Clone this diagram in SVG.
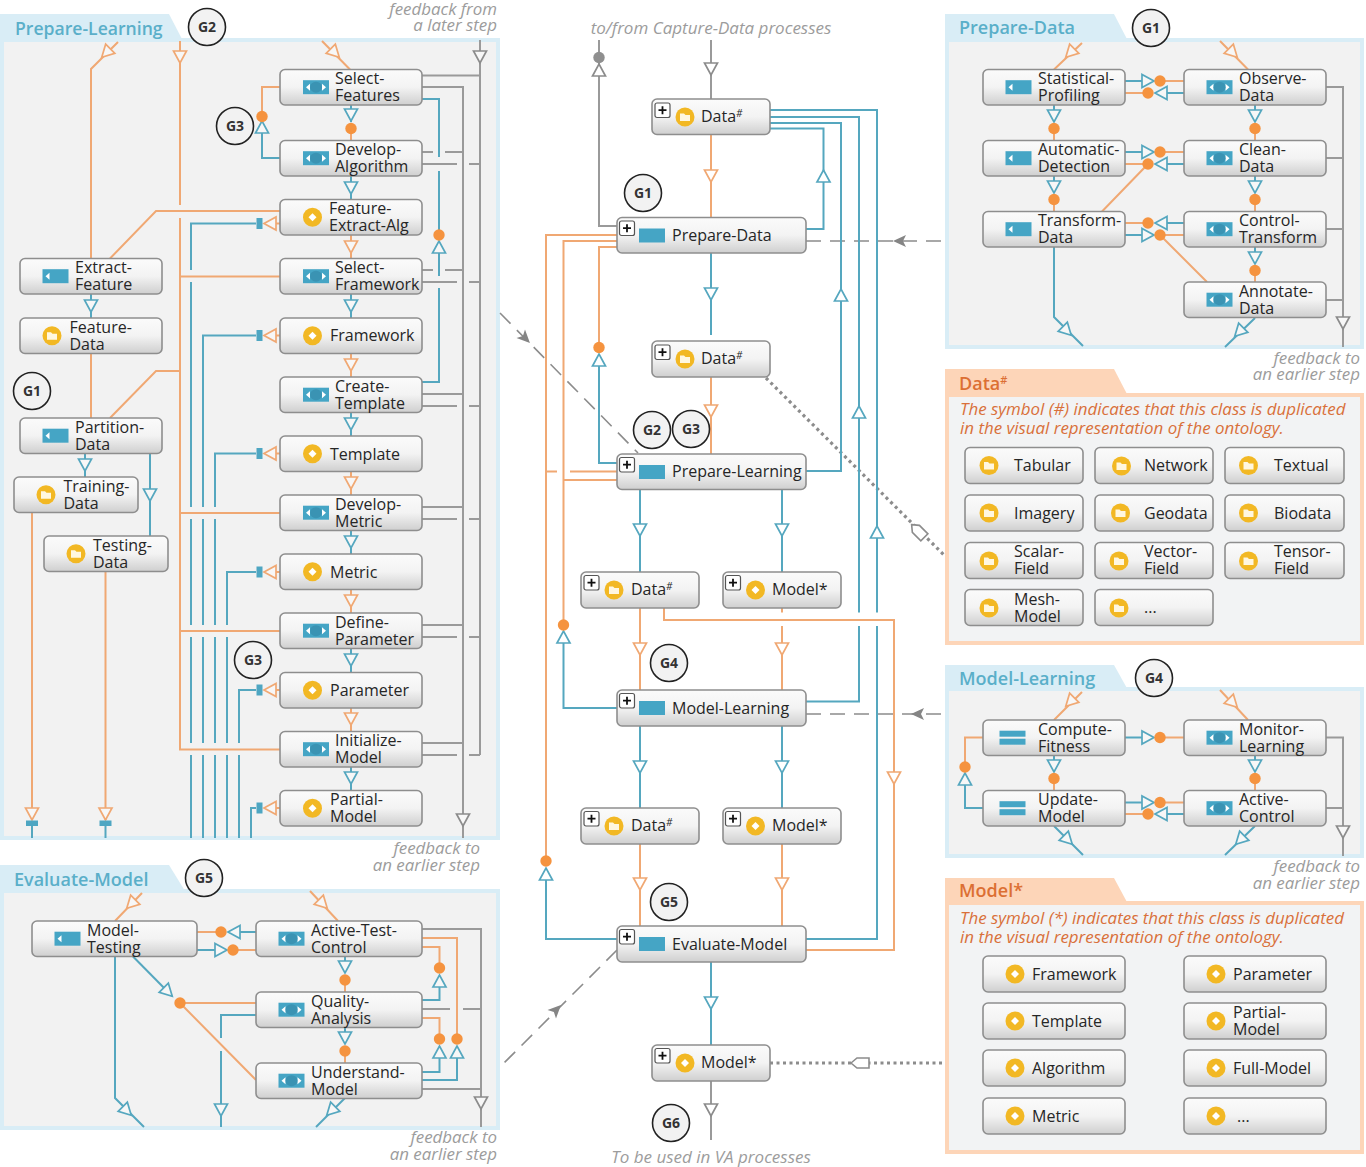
<svg xmlns="http://www.w3.org/2000/svg" width="1366" height="1167" viewBox="0 0 1366 1167">
<style>
text{font-family:"Open Sans","Liberation Sans",sans-serif}
.n{font-size:16px;fill:#262626}
.n:has(tspan[dy="17"]){transform:translate(0,-.8px)}
.f{font-size:16.9px;fill:#9c9c9c;font-style:italic;text-anchor:end}
.c{font-size:17px;fill:#9c9c9c;font-style:italic;text-anchor:middle}
.tb{font-size:18px;font-weight:600;fill:#5aafc9}
.to{font-size:18px;font-weight:600;fill:#dc6f33}
.de{font-size:16.9px;font-style:italic;fill:#d9703a}
.g{font-size:14px;font-weight:700;fill:#333;text-anchor:middle}
.gc{fill:#f2f2f2;stroke:#222;stroke-width:1.6}
.box{fill:url(#bg);stroke:#8e8e8e;stroke-width:1.6}
.pb{fill:#f2f2f2;stroke:#d9edf6;stroke-width:4}
.tbb{fill:#d9edf6}
.po{fill:#f2f3f4;stroke:#fdd5b8;stroke-width:4}
.tbo{fill:#fdd5b8}
.lo,.lb,.lg,.ld,.lt{fill:none;stroke-linejoin:miter}
.lo{stroke:#f0a873;stroke-width:2}
.lb{stroke:#55a7bf;stroke-width:2}
.lg{stroke:#9a9a9a;stroke-width:2}
.ld{stroke:#8c8c8c;stroke-width:1.6;stroke-dasharray:15 9}
.lt{stroke:#8c8c8c;stroke-width:3.2;stroke-dasharray:3 3.5}
.ao,.ab,.ag{stroke-width:1.7;fill:#f7f7f7}
.ao{stroke:#f0a873}
.ab{stroke:#55a7bf}
.ag{stroke:#8c8c8c}
.w{fill:#fff}
.d{fill:#f5933f}
.dg{fill:#8f8f8f}
.bk{fill:#4ea6c2}
.chev{fill:#858585}
.pent{fill:#fff;stroke:#8c8c8c;stroke-width:1.6}
.pl{fill:#fff;stroke:#555;stroke-width:1.2}
.pls{stroke:#111;stroke-width:1.8;fill:none}
</style>
<defs>
<linearGradient id="bg" x1="0" y1="0" x2="0" y2="1"><stop offset="0" stop-color="#fbfbfb"/><stop offset="0.5" stop-color="#f3f3f3"/><stop offset="1" stop-color="#cfcfcf"/></linearGradient>
<path id="a" d="M-6.5,-6 H6.5 L0,6 Z"/>
<path id="chv" d="M-7,0 L6,-6 L3,0 L6,6 Z"/>
<path id="pnt" d="M-9,0 L-3,-5 H9 V5 H-3 Z"/>
<g id="ip"><rect x="-13" y="-7" width="26" height="14" fill="#45a5c5"/></g>
<g id="il"><rect x="-13" y="-7" width="26" height="14" fill="#45a5c5"/><path d="M-10,0 L-6,-3.5 V3.5 Z" fill="#fff"/></g>
<g id="ib"><rect x="-13" y="-7" width="26" height="14" fill="#45a5c5"/><path d="M-10,0 L-6,-3.5 V3.5 Z M10,0 L6,-3.5 V3.5 Z" fill="#fff"/><ellipse cx="0" cy="0" rx="6" ry="5.5" fill="#3a93b3"/></g>
<g id="ie"><rect x="-13" y="-7" width="26" height="6" fill="#45a5c5"/><rect x="-13" y="1" width="26" height="6" fill="#45a5c5"/></g>
<g id="iy"><circle r="9.5" fill="#f2b824"/><path d="M-5,-3.5 H-1 L0.5,-2 H5 V4 H-5 Z" fill="#fff7e0"/></g>
<g id="im"><circle r="9.5" fill="#f2b824"/><path d="M0,-4 L4,0 L0,4 L-4,0 Z" fill="#fff"/></g>
<g id="plus"><rect x="0" y="0" width="15" height="14.5" rx="2" class="pl"/><path d="M3.5,7.2 H11.5 M7.5,3.2 V11.2" class="pls"/></g>
</defs>
<rect width="1366" height="1167" fill="#fff"/>

<g id="panels">
<g id="panel-prepare-learning"><path class="tbb" d="M0,14 H169 L183,41 H0 Z"/><rect class="pb" x="2" y="40" width="496" height="798"/><text class="tb" x="15" y="35" font-size="17.6" style="font-size:17.6px">Prepare-Learning</text></g>
<g id="panel-evaluate-model"><path class="tbb" d="M0,865 H169 L185,891 H0 Z"/><rect class="pb" x="2" y="891" width="496" height="237"/><text class="tb" x="14" y="886">Evaluate-Model</text></g>
<g id="panel-prepare-data"><path class="tbb" d="M945,14 H1114 L1128,41 H945 Z"/><rect class="pb" x="947" y="40" width="415" height="307"/><text class="tb" x="959" y="34">Prepare-Data</text></g>
<g id="panel-data-class"><path class="tbo" d="M945,369 H1114 L1128,396 H945 Z"/><rect class="po" x="947" y="395" width="415" height="248"/><text class="to" x="959" y="390">Data<tspan dy="-6" font-size="11">#</tspan></text>
<text class="de" x="960" y="415">The symbol (#) indicates that this class is duplicated</text><text class="de" x="960" y="434">in the visual representation of the ontology.</text></g>
<g id="panel-model-learning"><path class="tbb" d="M945,665 H1114 L1128,690 H945 Z"/><rect class="pb" x="947" y="689" width="415" height="167"/><text class="tb" x="959" y="685">Model-Learning</text></g>
<g id="panel-model-class"><path class="tbo" d="M945,878 H1114 L1128,904 H945 Z"/><rect class="po" x="947" y="903" width="415" height="249"/><text class="to" x="959" y="897">Model*</text>
<text class="de" x="960" y="923.5">The symbol (*) indicates that this class is duplicated</text><text class="de" x="960" y="943">in the visual representation of the ontology.</text></g>
</g>

<g id="notes">
<text class="f" x="497" y="15">feedback from</text><text class="f" x="497" y="31">a later step</text>
<text class="f" x="480" y="854">feedback to</text><text class="f" x="480" y="871">an earlier step</text>
<text class="f" x="497" y="1143">feedback to</text><text class="f" x="497" y="1160">an earlier step</text>
<text class="f" x="1360" y="364">feedback to</text><text class="f" x="1360" y="380">an earlier step</text>
<text class="f" x="1360" y="872">feedback to</text><text class="f" x="1360" y="889">an earlier step</text>
<text class="c" x="711" y="34">to/from Capture-Data processes</text>
<text class="c" x="711" y="1163">To be used in VA processes</text>
</g>

<g id="connectors">
<!-- Prepare-Learning: orange -->
<path class="lo" d="M118,42 L91,69 V258.5"/>
<path class="lo" d="M322,41 L350,69.5"/>
<path class="lo" d="M91,353.5 V418"/>
<path class="lo" d="M180,41 V205 M180,218 V749.5 H280 M180,276.5 H280 M180,513 H280 M180,631 H280 M180,371 H156 L110,418"/>
<path class="lo" d="M280,211 H156 L110,258.5"/>
<path class="lo" d="M280,87 H262 V116"/>
<path class="lo" d="M32,513 V820 M105.5,572 V820"/>
<path class="lo" d="M276,223.5 H280 M276,335.5 H280 M276,453.5 H280 M276,572 H280 M276,690 H280 M276,808 H280"/>
<path class="lo" d="M351,235 V258.5 M351,353.5 V377 M351,471.5 V495 M351,589.5 V613 M351,708 V731.5 M351,128 V140.5"/>
<!-- Prepare-Learning: blue -->
<path class="lb" d="M91,294 V318 M85,453.5 V477 M150,453.5 V536"/>
<path class="lb" d="M351,105 V122 M351,176 V199.5 M351,294 V318 M351,412.5 V436 M351,530.5 V554 M351,648.5 V672.5 M351,767 V790.5"/>
<path class="lb" d="M280,158 H262 V133"/>
<path class="lb" d="M422,99 H439 V157 M439,171 V235 M422,382 H439 V288 M439,276 V253"/>
<path class="lb" d="M256,223.5 H191 V270 M191,282 V507 M191,519 V625 M191,637 V743 M191,755 V838"/>
<path class="lb" d="M256,335.5 H203 V507 M203,519 V625 M203,637 V743 M203,755 V838"/>
<path class="lb" d="M256,453.5 H215 V507 M215,519 V625 M215,637 V743 M215,755 V838"/>
<path class="lb" d="M256,572 H227 V625 M227,637 V743 M227,755 V838"/>
<path class="lb" d="M256,690 H239 V743 M239,755 V838"/>
<path class="lb" d="M256,808 H251 V838"/>
<path class="lb" d="M32,826 V838 M105.5,826 V838"/>
<!-- Prepare-Learning: grey -->
<path class="lg" d="M480,40 V755 M422,75.5 H480 M422,164 H457 M469,164 H480 M422,282 H457 M469,282 H480 M422,406 H457 M469,406 H480 M422,519 H457 M469,519 H480 M422,637 H457 M469,637 H480 M422,755 H457 M469,755 H480"/>
<path class="lg" d="M422,87 H463 V838 M422,152 H433 M445,152 H463 M422,270 H433 M445,270 H463 M422,394 H463 M422,507 H463 M422,625 H463 M422,743 H463"/>
<!-- arrows -->
<use href="#a" class="ao" transform="translate(106,53) rotate(45)"/>
<use href="#a" class="ao" transform="translate(335,53) rotate(-45)"/>
<use href="#a" class="ao" transform="translate(180,57)"/>
<use href="#a" class="ag" transform="translate(480,57)"/>
<use href="#a" class="ag" transform="translate(463,820)"/>
<use href="#a" class="ao" transform="translate(32,814)"/>
<use href="#a" class="ao" transform="translate(105.5,814)"/>
<use href="#a" class="ab" transform="translate(91,306)"/>
<use href="#a" class="ab" transform="translate(85,465)"/>
<use href="#a" class="ab" transform="translate(150,495)"/>
<use href="#a" class="ab" transform="translate(262,127) rotate(180)"/>
<use href="#a" class="ab" transform="translate(439,247) rotate(180)"/>
<use href="#a" class="ab" transform="translate(351,115)"/>
<use href="#a" class="ab" transform="translate(351,188)"/>
<use href="#a" class="ao" transform="translate(351,247)"/>
<use href="#a" class="ab" transform="translate(351,306)"/>
<use href="#a" class="ao" transform="translate(351,365)"/>
<use href="#a" class="ab" transform="translate(351,424)"/>
<use href="#a" class="ao" transform="translate(351,483)"/>
<use href="#a" class="ab" transform="translate(351,542)"/>
<use href="#a" class="ao" transform="translate(351,601)"/>
<use href="#a" class="ab" transform="translate(351,660)"/>
<use href="#a" class="ao" transform="translate(351,719)"/>
<use href="#a" class="ab" transform="translate(351,778)"/>
<use href="#a" class="ao" transform="translate(270,223.5) rotate(90)"/>
<use href="#a" class="ao" transform="translate(270,335.5) rotate(90)"/>
<use href="#a" class="ao" transform="translate(270,453.5) rotate(90)"/>
<use href="#a" class="ao" transform="translate(270,572) rotate(90)"/>
<use href="#a" class="ao" transform="translate(270,690) rotate(90)"/>
<use href="#a" class="ao" transform="translate(270,808) rotate(90)"/>
<circle class="d" cx="351" cy="128.5" r="5.7"/>
<circle class="d" cx="262" cy="116.5" r="5.7"/>
<circle class="d" cx="439" cy="235" r="5.7"/>
<rect class="bk" x="256.5" y="218" width="6" height="11"/>
<rect class="bk" x="256.5" y="330" width="6" height="11"/>
<rect class="bk" x="256.5" y="448" width="6" height="11"/>
<rect class="bk" x="256.5" y="566.5" width="6" height="11"/>
<rect class="bk" x="256.5" y="684.5" width="6" height="11"/>
<rect class="bk" x="256.5" y="802.5" width="6" height="11"/>
<rect class="bk" x="26" y="820.5" width="12" height="5.5"/>
<rect class="bk" x="99.5" y="820.5" width="12" height="5.5"/>

<!-- Evaluate-Model panel -->
<path class="lo" d="M142,893 L115,921 M310,891 L338,921"/>
<path class="lo" d="M197,932 H221"/>
<path class="lo" d="M233,950 H256"/>
<path class="lb" d="M240,932 H256 M197,950 H216"/>
<path class="lb" d="M345,956.5 V973 M345,1027 V1044"/>
<path class="lo" d="M345,980 V992 M345,1051 V1063"/>
<path class="lb" d="M115,956.5 V1098 L144,1127"/>
<path class="lb" d="M133,956.5 L172,996"/>
<path class="lo" d="M180,1003 H256 M180,1003 L256,1080"/>
<path class="lb" d="M256,1015 H221 V1038 M221,1051 V1127"/>
<path class="lb" d="M345,1098 L316,1127"/>
<path class="lg" d="M422,929 H481 V1127 M422,1009 H450 M463,1009 H481 M422,1089 H481"/>
<path class="lo" d="M422,938 H457 V1039 M422,947 H439.5 V968 M422,1018 H439.5 V1039"/>
<path class="lb" d="M422,1000 H439.5 V987 M422,1072 H439.5 V1058 M422,1080 H457 V1058"/>
<use href="#a" class="ao" transform="translate(131,904) rotate(45)"/>
<use href="#a" class="ao" transform="translate(323,904) rotate(-45)"/>
<use href="#a" class="ab" transform="translate(234,932) rotate(90)"/>
<use href="#a" class="ab" transform="translate(221,950) rotate(-90)"/>
<use href="#a" class="ab" transform="translate(345,967)"/>
<use href="#a" class="ab" transform="translate(345,1038)"/>
<use href="#a" class="ab" transform="translate(127,1111) rotate(-45)"/>
<use href="#a" class="ab" transform="translate(168,992) rotate(-45)"/>
<use href="#a" class="ab" transform="translate(221,1110)"/>
<use href="#a" class="ab" transform="translate(331,1111) rotate(45)"/>
<use href="#a" class="ag" transform="translate(481,1103)"/>
<use href="#a" class="ab" transform="translate(439.5,981) rotate(180)"/>
<use href="#a" class="ab" transform="translate(439.5,1052) rotate(180)"/>
<use href="#a" class="ab" transform="translate(457,1052) rotate(180)"/>
<circle class="d" cx="221" cy="932" r="5.7"/>
<circle class="d" cx="233" cy="950" r="5.7"/>
<circle class="d" cx="345" cy="980" r="5.7"/>
<circle class="d" cx="345" cy="1051" r="5.7"/>
<circle class="d" cx="180" cy="1003" r="5.7"/>
<circle class="d" cx="439.5" cy="968" r="5.7"/>
<circle class="d" cx="439.5" cy="1039" r="5.7"/>
<circle class="d" cx="457" cy="1039" r="5.7"/>

<!-- Centre column -->
<path class="ld" d="M500,313 L638,453"/>
<path class="ld" d="M617,950 L500,1067"/>
<path class="ld" d="M806,241 H945"/>
<path class="ld" d="M806,714 H945"/>
<path class="lt" d="M766,378 L945,556"/>
<path class="lt" d="M770,1063 H945"/>
<path class="lg" d="M599,40 V226 H617"/>
<path class="lg" d="M711,40 V99"/>
<path class="lg" d="M711,1081 V1140"/>
<path class="lo" d="M711,134.5 V217.5 M711,377 V454"/>
<path class="lb" d="M711,253 V335"/>
<path class="lb" d="M770,128.5 H823.5 V229 H806"/>
<path class="lb" d="M770,123 H841 V471 H806"/>
<path class="lb" d="M770,117 H859 V612.5 M859,626 V701.5 H806"/>
<path class="lb" d="M770,110 H877 V612.5 M877,626 V939 H806"/>
<path class="lo" d="M617,235 H546 V861"/>
<path class="lo" d="M617,241 H563.5 V625"/>
<path class="lo" d="M617,247 H599 V347"/>
<path class="lo" d="M546,471.5 H557 M570,471.5 H617 M563.5,480 H617"/>
<path class="lb" d="M617,463 H599 V366"/>
<path class="lb" d="M617,708 H563.5 V643"/>
<path class="lb" d="M617,939 H546 V880"/>
<path class="lb" d="M640,489.5 V572 M782,489.5 V572 M640,726 V808 M782,726 V808 M711,962 V1045"/>
<path class="lo" d="M640,608 V690 M782,608 V612.5 M782,626 V690 M640,844 V926 M782,844 V926"/>
<path class="lo" d="M664,608 V620 H894 V950 H806"/>
<use href="#a" class="ag w" transform="translate(711,69)"/>
<use href="#a" class="ag w" transform="translate(599,70) rotate(180)"/>
<use href="#a" class="ag w" transform="translate(711,1110)"/>
<use href="#a" class="ao w" transform="translate(711,176)"/>
<use href="#a" class="ao w" transform="translate(711,411)"/>
<use href="#a" class="ab w" transform="translate(711,294)"/>
<use href="#a" class="ab w" transform="translate(823.5,176) rotate(180)"/>
<use href="#a" class="ab w" transform="translate(841,295) rotate(180)"/>
<use href="#a" class="ab w" transform="translate(859,412) rotate(180)"/>
<use href="#a" class="ab w" transform="translate(877,532) rotate(180)"/>
<use href="#a" class="ab w" transform="translate(599,360) rotate(180)"/>
<use href="#a" class="ab w" transform="translate(563.5,637) rotate(180)"/>
<use href="#a" class="ab w" transform="translate(546,874) rotate(180)"/>
<use href="#a" class="ab w" transform="translate(640,530)"/>
<use href="#a" class="ab w" transform="translate(782,530)"/>
<use href="#a" class="ao w" transform="translate(640,649)"/>
<use href="#a" class="ao w" transform="translate(782,649)"/>
<use href="#a" class="ab w" transform="translate(640,767)"/>
<use href="#a" class="ab w" transform="translate(782,767)"/>
<use href="#a" class="ao w" transform="translate(640,884)"/>
<use href="#a" class="ao w" transform="translate(782,884)"/>
<use href="#a" class="ab w" transform="translate(711,1003)"/>
<use href="#a" class="ao w" transform="translate(894,778)"/>
<circle class="dg" cx="599" cy="57.5" r="5.7"/>
<circle class="d" cx="599" cy="347.5" r="5.7"/>
<circle class="d" cx="563.5" cy="625" r="5.7"/>
<circle class="d" cx="546" cy="861" r="5.7"/>
<use href="#chv" class="chev" transform="translate(900,241)"/>
<use href="#chv" class="chev" transform="translate(918,714)"/>
<use href="#chv" class="chev" transform="translate(525,338) rotate(225)"/>
<use href="#chv" class="chev" transform="translate(556,1010) rotate(135)"/>
<use href="#pnt" class="pent" transform="translate(918,531) rotate(45)"/>
<use href="#pnt" class="pent" transform="translate(860,1063)"/>

<!-- Prepare-Data panel -->
<path class="lo" d="M1082,43 L1054,69.5 M1220,41 L1248,69.5"/>
<path class="lb" d="M1125,81 H1143 M1167,93 H1184 M1125,152 H1143 M1167,164 H1184 M1125,235 H1143 M1167,223 H1184"/>
<path class="lo" d="M1160,81 H1184 M1125,93 H1148 M1160,152 H1184 M1125,164 H1148 M1125,223 H1148 M1160,235 H1184"/>
<path class="lo" d="M1148,164 L1102,211.5 M1160,235 L1207,282"/>
<path class="lb" d="M1054,105 V122 M1054,176 V193 M1255,105 V122 M1255,176 V193 M1255,246.5 V264"/>
<path class="lo" d="M1054,128 V140.5 M1054,199 V211.5 M1255,128 V140.5 M1255,199 V211.5 M1255,270 V282"/>
<path class="lg" d="M1326,87 H1343 V347 M1326,158 H1343 M1326,229 H1343 M1326,300 H1343"/>
<path class="lb" d="M1054,246.5 V317 L1083,346 M1255,318 L1225,347"/>
<use href="#a" class="ao" transform="translate(1070,53) rotate(45)"/>
<use href="#a" class="ao" transform="translate(1233,53) rotate(-45)"/>
<use href="#a" class="ab" transform="translate(1148,81) rotate(-90)"/>
<use href="#a" class="ab" transform="translate(1161,93) rotate(90)"/>
<use href="#a" class="ab" transform="translate(1148,152) rotate(-90)"/>
<use href="#a" class="ab" transform="translate(1161,164) rotate(90)"/>
<use href="#a" class="ab" transform="translate(1161,223) rotate(90)"/>
<use href="#a" class="ab" transform="translate(1148,235) rotate(-90)"/>
<use href="#a" class="ab" transform="translate(1054,116)"/>
<use href="#a" class="ab" transform="translate(1054,187)"/>
<use href="#a" class="ab" transform="translate(1255,116)"/>
<use href="#a" class="ab" transform="translate(1255,187)"/>
<use href="#a" class="ab" transform="translate(1255,258)"/>
<use href="#a" class="ag" transform="translate(1343,323)"/>
<use href="#a" class="ab" transform="translate(1067,331) rotate(-45)"/>
<use href="#a" class="ab" transform="translate(1239,332) rotate(45)"/>
<circle class="d" cx="1160" cy="81" r="5.7"/><circle class="d" cx="1148" cy="93" r="5.7"/>
<circle class="d" cx="1160" cy="152" r="5.7"/><circle class="d" cx="1148" cy="164" r="5.7"/>
<circle class="d" cx="1148" cy="223" r="5.7"/><circle class="d" cx="1160" cy="235" r="5.7"/>
<circle class="d" cx="1054" cy="128.5" r="5.7"/><circle class="d" cx="1054" cy="199.5" r="5.7"/>
<circle class="d" cx="1255" cy="128.5" r="5.7"/><circle class="d" cx="1255" cy="199.5" r="5.7"/><circle class="d" cx="1255" cy="270.5" r="5.7"/>

<!-- Model-Learning panel -->
<path class="lo" d="M1082,692 L1054,720 M1220,690 L1248,720"/>
<path class="lb" d="M1125,737.5 H1143 M1125,802.5 H1143 M1167,814 H1184"/>
<path class="lo" d="M1160,737.5 H1184 M1160,802.5 H1184 M1125,814 H1148"/>
<path class="lo" d="M983,737.5 H965 V767"/>
<path class="lb" d="M983,808 H965 V785"/>
<path class="lb" d="M1054,755 V772 M1255,755 V772"/>
<path class="lo" d="M1054,778 V790.5 M1255,778 V790.5"/>
<path class="lg" d="M1326,737.5 H1343 V856 M1326,808 H1343"/>
<path class="lb" d="M1054,826 L1083,855 M1255,826 L1225,855"/>
<use href="#a" class="ao" transform="translate(1070,702) rotate(45)"/>
<use href="#a" class="ao" transform="translate(1233,703) rotate(-45)"/>
<use href="#a" class="ab" transform="translate(1148,737.5) rotate(-90)"/>
<use href="#a" class="ab" transform="translate(1148,802.5) rotate(-90)"/>
<use href="#a" class="ab" transform="translate(1161,814) rotate(90)"/>
<use href="#a" class="ab" transform="translate(965,779) rotate(180)"/>
<use href="#a" class="ab" transform="translate(1054,766)"/>
<use href="#a" class="ab" transform="translate(1255,766)"/>
<use href="#a" class="ag" transform="translate(1343,832)"/>
<use href="#a" class="ab" transform="translate(1068,840) rotate(-45)"/>
<use href="#a" class="ab" transform="translate(1240,840) rotate(45)"/>
<circle class="d" cx="1160" cy="737.5" r="5.7"/><circle class="d" cx="1160" cy="802.5" r="5.7"/><circle class="d" cx="1148" cy="814" r="5.7"/>
<circle class="d" cx="965" cy="767" r="5.7"/><circle class="d" cx="1054" cy="778.5" r="5.7"/><circle class="d" cx="1255" cy="778.5" r="5.7"/>
</g>

<g id="nodes">
<!-- Prepare-Learning -->
<g id="pl-select-features"><rect class="box" x="280" y="69.5" width="142" height="35.5" rx="5"/><use href="#ib" x="316" y="87.2"/><text class="n" x="335" y="85">Select-<tspan x="335" dy="17">Features</tspan></text></g>
<g id="pl-develop-algorithm"><rect class="box" x="280" y="140.5" width="142" height="35.5" rx="5"/><use href="#ib" x="316" y="158.2"/><text class="n" x="335" y="156">Develop-<tspan x="335" dy="17">Algorithm</tspan></text></g>
<g id="pl-feature-extract-alg"><rect class="box" x="280" y="199.5" width="142" height="35.5" rx="5"/><use href="#im" x="312.5" y="217.2"/><text class="n" x="329" y="215">Feature-<tspan x="329" dy="17">Extract-Alg</tspan></text></g>
<g id="pl-select-framework"><rect class="box" x="280" y="258.5" width="142" height="35.5" rx="5"/><use href="#ib" x="316" y="276.2"/><text class="n" x="335" y="274">Select-<tspan x="335" dy="17">Framework</tspan></text></g>
<g id="pl-framework"><rect class="box" x="280" y="318" width="142" height="35.5" rx="5"/><use href="#im" x="312.5" y="335.7"/><text class="n" x="330" y="341">Framework</text></g>
<g id="pl-create-template"><rect class="box" x="280" y="377" width="142" height="35.5" rx="5"/><use href="#ib" x="316" y="394.7"/><text class="n" x="335" y="392.5">Create-<tspan x="335" dy="17">Template</tspan></text></g>
<g id="pl-template"><rect class="box" x="280" y="436" width="142" height="35.5" rx="5"/><use href="#im" x="312.5" y="453.7"/><text class="n" x="330" y="459.8">Template</text></g>
<g id="pl-develop-metric"><rect class="box" x="280" y="495" width="142" height="35.5" rx="5"/><use href="#ib" x="316" y="512.7"/><text class="n" x="335" y="510.5">Develop-<tspan x="335" dy="17">Metric</tspan></text></g>
<g id="pl-metric"><rect class="box" x="280" y="554" width="142" height="35.5" rx="5"/><use href="#im" x="312.5" y="571.7"/><text class="n" x="330" y="577.8">Metric</text></g>
<g id="pl-define-parameter"><rect class="box" x="280" y="613" width="142" height="35.5" rx="5"/><use href="#ib" x="316" y="630.7"/><text class="n" x="335" y="628.5">Define-<tspan x="335" dy="17">Parameter</tspan></text></g>
<g id="pl-parameter"><rect class="box" x="280" y="672.5" width="142" height="35.5" rx="5"/><use href="#im" x="312.5" y="690.2"/><text class="n" x="330" y="696">Parameter</text></g>
<g id="pl-initialize-model"><rect class="box" x="280" y="731.5" width="142" height="35.5" rx="5"/><use href="#ib" x="316" y="749.2"/><text class="n" x="335" y="747">Initialize-<tspan x="335" dy="17">Model</tspan></text></g>
<g id="pl-partial-model"><rect class="box" x="280" y="790.5" width="142" height="35.5" rx="5"/><use href="#im" x="312.5" y="808.2"/><text class="n" x="330" y="806">Partial-<tspan x="330" dy="17">Model</tspan></text></g>
<g id="pl-extract-feature"><rect class="box" x="20" y="258.5" width="142" height="35.5" rx="5"/><use href="#il" x="55.5" y="276.2"/><text class="n" x="75" y="274">Extract-<tspan x="75" dy="17">Feature</tspan></text></g>
<g id="pl-feature-data"><rect class="box" x="20" y="318" width="142" height="35.5" rx="5"/><use href="#iy" x="52" y="335.7"/><text class="n" x="69.5" y="333.5">Feature-<tspan x="69.5" dy="17">Data</tspan></text></g>
<g id="pl-partition-data"><rect class="box" x="20" y="418" width="142" height="35.5" rx="5"/><use href="#il" x="55.5" y="435.7"/><text class="n" x="75" y="433.5">Partition-<tspan x="75" dy="17">Data</tspan></text></g>
<g id="pl-training-data"><rect class="box" x="14" y="477" width="124" height="35.5" rx="5"/><use href="#iy" x="46" y="494.7"/><text class="n" x="63.5" y="492.5">Training-<tspan x="63.5" dy="17">Data</tspan></text></g>
<g id="pl-testing-data"><rect class="box" x="44" y="536" width="124" height="35.5" rx="5"/><use href="#iy" x="76" y="553.7"/><text class="n" x="93" y="551.5">Testing-<tspan x="93" dy="17">Data</tspan></text></g>
<!-- Evaluate-Model -->
<g id="em-model-testing"><rect class="box" x="32" y="921" width="165" height="35.5" rx="5"/><use href="#il" x="67.5" y="938.7"/><text class="n" x="87" y="936.5">Model-<tspan x="87" dy="17">Testing</tspan></text></g>
<g id="em-active-test-control"><rect class="box" x="256" y="921" width="166" height="35.5" rx="5"/><use href="#ib" x="291.5" y="938.7"/><text class="n" x="311" y="936.5">Active-Test-<tspan x="311" dy="17">Control</tspan></text></g>
<g id="em-quality-analysis"><rect class="box" x="256" y="992" width="166" height="35.5" rx="5"/><use href="#ib" x="291.5" y="1009.7"/><text class="n" x="311" y="1007.5">Quality-<tspan x="311" dy="17">Analysis</tspan></text></g>
<g id="em-understand-model"><rect class="box" x="256" y="1063" width="166" height="35.5" rx="5"/><use href="#ib" x="291.5" y="1080.7"/><text class="n" x="311" y="1078.5">Understand-<tspan x="311" dy="17">Model</tspan></text></g>
<!-- Centre -->
<g id="c-data-1"><rect class="box" x="652" y="99" width="118" height="35.5" rx="5"/><use href="#plus" x="655" y="103"/><use href="#iy" x="685" y="117"/><text class="n" x="701" y="122">Data<tspan dy="-5" font-size="10" font-style="italic">#</tspan></text></g>
<g id="c-prepare-data"><rect class="box" x="617" y="217.5" width="189" height="35.5" rx="5"/><use href="#plus" x="619.5" y="221"/><use href="#ip" x="652" y="235.5"/><text class="n" x="672" y="241">Prepare-Data</text></g>
<g id="c-data-2"><rect class="box" x="652" y="341" width="118" height="36" rx="5"/><use href="#plus" x="655" y="345"/><use href="#iy" x="685" y="359"/><text class="n" x="701" y="364">Data<tspan dy="-5" font-size="10" font-style="italic">#</tspan></text></g>
<g id="c-prepare-learning"><rect class="box" x="617" y="454" width="189" height="35.5" rx="5"/><use href="#plus" x="619.5" y="457.5"/><use href="#ip" x="652" y="472"/><text class="n" x="672" y="477">Prepare-Learning</text></g>
<g id="c-data-3"><rect class="box" x="581" y="572" width="118" height="36" rx="5"/><use href="#plus" x="584" y="575.5"/><use href="#iy" x="614" y="590"/><text class="n" x="631" y="595">Data<tspan dy="-5" font-size="10" font-style="italic">#</tspan></text></g>
<g id="c-model-1"><rect class="box" x="723" y="572" width="118" height="36" rx="5"/><use href="#plus" x="725.5" y="575.5"/><use href="#im" x="755.5" y="590"/><text class="n" x="772" y="595">Model*</text></g>
<g id="c-model-learning"><rect class="box" x="617" y="690" width="189" height="36" rx="5"/><use href="#plus" x="619.5" y="693.5"/><use href="#ip" x="652" y="708"/><text class="n" x="672" y="713.5">Model-Learning</text></g>
<g id="c-data-4"><rect class="box" x="581" y="808" width="118" height="36" rx="5"/><use href="#plus" x="584" y="811.5"/><use href="#iy" x="614" y="826"/><text class="n" x="631" y="831">Data<tspan dy="-5" font-size="10" font-style="italic">#</tspan></text></g>
<g id="c-model-2"><rect class="box" x="723" y="808" width="118" height="36" rx="5"/><use href="#plus" x="725.5" y="811.5"/><use href="#im" x="755.5" y="826"/><text class="n" x="772" y="831">Model*</text></g>
<g id="c-evaluate-model"><rect class="box" x="617" y="926" width="189" height="36" rx="5"/><use href="#plus" x="619.5" y="929.5"/><use href="#ip" x="652" y="944"/><text class="n" x="672" y="949.5">Evaluate-Model</text></g>
<g id="c-model-3"><rect class="box" x="652" y="1045" width="118" height="36" rx="5"/><use href="#plus" x="655" y="1048.5"/><use href="#im" x="685" y="1063"/><text class="n" x="701" y="1068">Model*</text></g>
<!-- Prepare-Data -->
<g id="pd-statistical-profiling"><rect class="box" x="983" y="69.5" width="142" height="35.5" rx="5"/><use href="#il" x="1018.5" y="87.2"/><text class="n" x="1038" y="85">Statistical-<tspan x="1038" dy="17">Profiling</tspan></text></g>
<g id="pd-automatic-detection"><rect class="box" x="983" y="140.5" width="142" height="35.5" rx="5"/><use href="#il" x="1018.5" y="158.2"/><text class="n" x="1038" y="156">Automatic-<tspan x="1038" dy="17">Detection</tspan></text></g>
<g id="pd-transform-data"><rect class="box" x="983" y="211.5" width="142" height="35.5" rx="5"/><use href="#il" x="1018.5" y="229.2"/><text class="n" x="1038" y="227">Transform-<tspan x="1038" dy="17">Data</tspan></text></g>
<g id="pd-observe-data"><rect class="box" x="1184" y="69.5" width="142" height="35.5" rx="5"/><use href="#ib" x="1219.5" y="87.2"/><text class="n" x="1239" y="85">Observe-<tspan x="1239" dy="17">Data</tspan></text></g>
<g id="pd-clean-data"><rect class="box" x="1184" y="140.5" width="142" height="35.5" rx="5"/><use href="#ib" x="1219.5" y="158.2"/><text class="n" x="1239" y="156">Clean-<tspan x="1239" dy="17">Data</tspan></text></g>
<g id="pd-control-transform"><rect class="box" x="1184" y="211.5" width="142" height="35.5" rx="5"/><use href="#ib" x="1219.5" y="229.2"/><text class="n" x="1239" y="227">Control-<tspan x="1239" dy="17">Transform</tspan></text></g>
<g id="pd-annotate-data"><rect class="box" x="1184" y="282" width="142" height="35.5" rx="5"/><use href="#ib" x="1219.5" y="299.7"/><text class="n" x="1239" y="297.5">Annotate-<tspan x="1239" dy="17">Data</tspan></text></g>
<!-- Data classes -->
<g id="d-tabular"><rect class="box" x="965" y="447.5" width="118" height="36" rx="5"/><use href="#iy" x="989" y="465.5"/><text class="n" x="1014" y="471">Tabular</text></g>
<g id="d-network"><rect class="box" x="1095" y="447.5" width="118" height="36" rx="5"/><use href="#iy" x="1121.5" y="466"/><text class="n" x="1144" y="471">Network</text></g>
<g id="d-textual"><rect class="box" x="1225" y="447.5" width="119" height="36" rx="5"/><use href="#iy" x="1248.5" y="465.5"/><text class="n" x="1274" y="471">Textual</text></g>
<g id="d-imagery"><rect class="box" x="965" y="495" width="118" height="36" rx="5"/><use href="#iy" x="989" y="513"/><text class="n" x="1014" y="518.5">Imagery</text></g>
<g id="d-geodata"><rect class="box" x="1095" y="495" width="118" height="36" rx="5"/><use href="#iy" x="1120.5" y="513"/><text class="n" x="1144" y="518.5">Geodata</text></g>
<g id="d-biodata"><rect class="box" x="1225" y="495" width="119" height="36" rx="5"/><use href="#iy" x="1248.5" y="513"/><text class="n" x="1274" y="518.5">Biodata</text></g>
<g id="d-scalar"><rect class="box" x="965" y="542.5" width="118" height="36" rx="5"/><use href="#iy" x="989" y="561"/><text class="n" x="1014" y="558">Scalar-<tspan x="1014" dy="17">Field</tspan></text></g>
<g id="d-vector"><rect class="box" x="1095" y="542.5" width="118" height="36" rx="5"/><use href="#iy" x="1119" y="561"/><text class="n" x="1144" y="558">Vector-<tspan x="1144" dy="17">Field</tspan></text></g>
<g id="d-tensor"><rect class="box" x="1225" y="542.5" width="119" height="36" rx="5"/><use href="#iy" x="1248.5" y="561"/><text class="n" x="1274" y="558">Tensor-<tspan x="1274" dy="17">Field</tspan></text></g>
<g id="d-mesh"><rect class="box" x="965" y="589.5" width="118" height="36" rx="5"/><use href="#iy" x="989" y="608"/><text class="n" x="1014" y="605.5">Mesh-<tspan x="1014" dy="17">Model</tspan></text></g>
<g id="d-more"><rect class="box" x="1095" y="589.5" width="118" height="36" rx="5"/><use href="#iy" x="1119" y="608"/><text class="n" x="1144" y="613">...</text></g>
<!-- Model-Learning -->
<g id="ml-compute-fitness"><rect class="box" x="983" y="720" width="142" height="35.5" rx="5"/><use href="#ie" x="1012.5" y="737.7"/><text class="n" x="1038" y="735.5">Compute-<tspan x="1038" dy="17">Fitness</tspan></text></g>
<g id="ml-update-model"><rect class="box" x="983" y="790.5" width="142" height="35.5" rx="5"/><use href="#ie" x="1012.5" y="808.2"/><text class="n" x="1038" y="806">Update-<tspan x="1038" dy="17">Model</tspan></text></g>
<g id="ml-monitor-learning"><rect class="box" x="1184" y="720" width="142" height="35.5" rx="5"/><use href="#ib" x="1219.5" y="737.7"/><text class="n" x="1239" y="735.5">Monitor-<tspan x="1239" dy="17">Learning</tspan></text></g>
<g id="ml-active-control"><rect class="box" x="1184" y="790.5" width="142" height="35.5" rx="5"/><use href="#ib" x="1219.5" y="808.2"/><text class="n" x="1239" y="806">Active-<tspan x="1239" dy="17">Control</tspan></text></g>
<!-- Model classes -->
<g id="m-framework"><rect class="box" x="983" y="956" width="142" height="36" rx="5"/><use href="#im" x="1015" y="974"/><text class="n" x="1032" y="979.5">Framework</text></g>
<g id="m-parameter"><rect class="box" x="1184" y="956" width="142" height="36" rx="5"/><use href="#im" x="1216" y="974"/><text class="n" x="1233" y="979.5">Parameter</text></g>
<g id="m-template"><rect class="box" x="983" y="1003" width="142" height="36" rx="5"/><use href="#im" x="1015" y="1021"/><text class="n" x="1032" y="1026.5">Template</text></g>
<g id="m-partial"><rect class="box" x="1184" y="1003" width="142" height="36" rx="5"/><use href="#im" x="1216" y="1021"/><text class="n" x="1233" y="1018.5">Partial-<tspan x="1233" dy="17">Model</tspan></text></g>
<g id="m-algorithm"><rect class="box" x="983" y="1050" width="142" height="36" rx="5"/><use href="#im" x="1015" y="1068"/><text class="n" x="1032" y="1073.5">Algorithm</text></g>
<g id="m-full"><rect class="box" x="1184" y="1050" width="142" height="36" rx="5"/><use href="#im" x="1216" y="1068"/><text class="n" x="1233" y="1073.5">Full-Model</text></g>
<g id="m-metric"><rect class="box" x="983" y="1098" width="142" height="36" rx="5"/><use href="#im" x="1015" y="1116"/><text class="n" x="1032" y="1121.5">Metric</text></g>
<g id="m-more"><rect class="box" x="1184" y="1098" width="142" height="36" rx="5"/><use href="#im" x="1216" y="1116"/><text class="n" x="1237" y="1121.5">...</text></g>
</g>

<g id="group-labels">
<g id="g2-a"><circle class="gc" cx="207" cy="27" r="18.5"/><text class="g" x="207" y="32">G2</text></g>
<g id="g3-a"><circle class="gc" cx="235" cy="126" r="18.5"/><text class="g" x="235" y="131">G3</text></g>
<g id="g1-a"><circle class="gc" cx="32" cy="391" r="18.5"/><text class="g" x="32" y="396">G1</text></g>
<g id="g3-b"><circle class="gc" cx="253" cy="660" r="18.5"/><text class="g" x="253" y="665">G3</text></g>
<g id="g5-a"><circle class="gc" cx="204" cy="878" r="18.5"/><text class="g" x="204" y="883">G5</text></g>
<g id="g1-b"><circle class="gc" cx="643" cy="193" r="18.5"/><text class="g" x="643" y="198">G1</text></g>
<g id="g2-b"><circle class="gc" cx="652" cy="430" r="18.5"/><text class="g" x="652" y="435">G2</text></g>
<g id="g3-c"><circle class="gc" cx="691" cy="429" r="18.5"/><text class="g" x="691" y="434">G3</text></g>
<g id="g4-a"><circle class="gc" cx="669" cy="663" r="18.5"/><text class="g" x="669" y="668">G4</text></g>
<g id="g5-b"><circle class="gc" cx="669" cy="902" r="18.5"/><text class="g" x="669" y="907">G5</text></g>
<g id="g6"><circle class="gc" cx="671" cy="1123" r="18.5"/><text class="g" x="671" y="1128">G6</text></g>
<g id="g1-c"><circle class="gc" cx="1151" cy="28" r="18.5"/><text class="g" x="1151" y="33">G1</text></g>
<g id="g4-b"><circle class="gc" cx="1154" cy="678" r="18.5"/><text class="g" x="1154" y="683">G4</text></g>
</g>
</svg>
